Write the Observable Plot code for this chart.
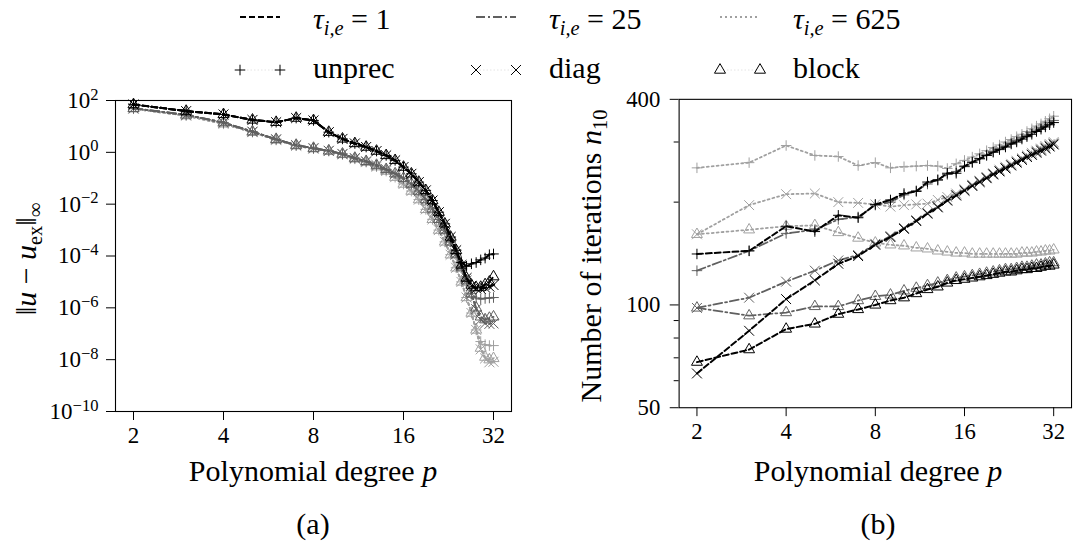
<!DOCTYPE html>
<html><head><meta charset="utf-8">
<script src="https://cdn.jsdelivr.net/npm/d3@7"></script>
<script src="https://cdn.jsdelivr.net/npm/@observablehq/plot@0.6"></script>
<style>
html,body{margin:0;padding:0;background:#fff;overflow:hidden;}
#fig{position:relative;width:1074px;height:543px;overflow:hidden;font-family:"Liberation Serif",serif;color:#000;}
.t{position:absolute;white-space:nowrap;line-height:1;font-size:30px;}
.t sub{font-size:0.68em;vertical-align:-0.28em;line-height:0;}
.pane{position:absolute;top:0;}
.leg{position:absolute;overflow:visible;}
</style></head>
<body><div id="fig"></div>
<script>
// ---------- data ----------
const P = [2,3,4,5,6,7,8,9,10,11,12,13,14,15,16,17,18,19,20,21,22,23,24,25,26,27,28,29,30,31,32];
const xTicks = [2,4,8,16,32];
const errTicks = [1e2,1e0,1e-2,1e-4,1e-6,1e-8,1e-10];
const errTickLabels = ["2","0","\u22122","\u22124","\u22126","\u22128","\u221210"];
const itMajor = [50,100,400];
const itMinor = [60,70,80,90,200,300];

// (a) max error
const errT1Unprec = [71,39,29,17.8,14.5,21,17,6.0,3.3,2.2,1.6,1.12,0.76,0.49,0.27,0.148,0.071,0.034,0.0138,4.9e-3,1.74e-3,5.4e-4,1.66e-4,5.6e-5,4.0e-5,5.0e-5,5.6e-5,7.1e-5,8.3e-5,1.12e-4,1.2e-4];
const errT1Diag   = [70,39,29,17.8,14.5,21,17,6.0,3.3,2.2,1.6,1.12,0.76,0.49,0.27,0.148,0.071,0.034,0.0138,4.9e-3,1.74e-3,5.4e-4,1.66e-4,4.5e-5,1.41e-5,7.1e-6,5.6e-6,5.4e-6,6.0e-6,6.6e-6,7.6e-6];
const errT1Block  = [70,39,29,17.8,14.5,21,17,6.0,3.3,2.2,1.6,1.12,0.76,0.49,0.27,0.148,0.071,0.034,0.0138,4.9e-3,1.74e-3,5.4e-4,1.66e-4,4.5e-5,1.41e-5,7.6e-6,6.0e-6,6.3e-6,7.9e-6,1.0e-5,1.6e-5];
const errT25Unprec = [50,28,14.1,6.3,3.2,1.9,1.45,1.15,0.87,0.60,0.45,0.32,0.22,0.15,0.10,0.060,0.032,0.015,6.6e-3,2.6e-3,1.0e-3,3.5e-4,1.2e-4,3.8e-5,1.12e-5,3.5e-6,2.4e-6,2.2e-6,2.3e-6,2.4e-6,2.5e-6];
const errT25Diag   = [50,28,14.1,6.3,3.2,1.9,1.45,1.15,0.87,0.60,0.45,0.32,0.22,0.15,0.10,0.060,0.032,0.015,6.6e-3,2.6e-3,1.0e-3,3.5e-4,1.2e-4,3.8e-5,1.12e-5,3.5e-6,8.9e-7,3.5e-7,2.5e-7,2.4e-7,2.5e-7];
const errT25Block  = [50,28,14.1,6.3,3.2,1.9,1.45,1.15,0.87,0.60,0.45,0.32,0.22,0.15,0.10,0.060,0.032,0.015,6.6e-3,2.6e-3,1.0e-3,3.5e-4,1.2e-4,3.8e-5,1.12e-5,3.5e-6,1.0e-6,4.5e-7,3.5e-7,4.0e-7,4.5e-7];
const errT625Unprec = [48,26,12.6,6.0,3.0,1.8,1.38,1.12,0.83,0.56,0.42,0.28,0.19,0.11,0.060,0.032,0.015,6.3e-3,2.6e-3,1.0e-3,3.5e-4,1.12e-4,3.5e-5,1.0e-5,2.5e-6,6.3e-7,1.4e-7,5.0e-8,3.8e-8,3.5e-8,3.5e-8];
const errT625Diag   = [48,26,12.6,6.0,3.0,1.8,1.38,1.12,0.83,0.56,0.42,0.28,0.19,0.11,0.060,0.032,0.015,6.3e-3,2.6e-3,1.0e-3,3.5e-4,1.12e-4,3.5e-5,1.0e-5,2.5e-6,6.3e-7,1.4e-7,2.5e-8,1.12e-8,7.9e-9,8.3e-9];
const errT625Block  = [48,26,12.6,6.0,3.0,1.8,1.38,1.12,0.83,0.56,0.42,0.28,0.19,0.11,0.060,0.032,0.015,6.3e-3,2.6e-3,1.0e-3,3.5e-4,1.12e-4,3.5e-5,1.0e-5,2.5e-6,6.3e-7,1.4e-7,2.8e-8,1.26e-8,1.0e-8,1.12e-8];

// (b) iterations n10
const itT1Unprec = [141,144,170,164,183,180,197,203,212,215,229,232,243,243,255,262,268,274,280,285,290,296,300,306,311,316,322,327,332,337,342];
const itT1Diag   = [63,84,104,118,132,139,150,158,167,176,185,193,202,209,216,223,229,235,241,246,251,256,261,266,271,275,279,283,287,291,295];
const itT1Block  = [68,74,85,88,94,97,100,103,105,108,111,113,116,118,119,120,121,122,123,124,125,125,126,127,127,128,128,129,130,130,131];
const itT25Unprec = [126,144,162,166,178,181,196,200,210,216,226,233,241,246,254,261,268,275,281,287,292,298,303,309,314,320,325,331,336,342,347];
const itT25Diag   = [98,105,117,126,135,140,151,159,168,177,186,194,203,210,217,224,230,236,242,247,252,257,262,267,272,276,281,285,289,293,297];
const itT25Block  = [98,93,95,99,99,103,106,107,110,112,114,116,118,120,121,122,123,124,125,126,127,127,128,129,129,130,131,131,132,133,133];
const itT625Unprec = [252,261,293,274,272,256,261,252,254,255,256,255,251,259,265,271,277,283,289,294,300,305,311,316,322,328,334,339,345,351,357];
const itT625Diag   = [161,196,211,212,200,199,197,194,196,197,198,203,207,212,218,225,231,237,243,249,254,259,264,269,274,279,283,287,292,296,300];
const itT625Block  = [161,166,170,171,163,157,152,150,149,147,146,144,143,142,142,141,141,141,141,141,141,141,141,142,142,142,143,143,144,144,145];

// ---------- styles ----------
const TAU = {
  "1":   {color:"#000000", dash:"6,3", width:2},
  "25":  {color:"#606060", dash:"9,3,2,3", width:1.8},
  "625": {color:"#a0a0a0", dash:"2,3", width:1.8}
};
const SYM = {unprec:{symbol:"plus", r:3.5}, diag:{symbol:"times", r:4.6}, block:{symbol:"triangle", r:4.1}};
const FONT = "'Liberation Serif', serif";

const errSeries = [
  ["625","unprec",errT625Unprec],["625","diag",errT625Diag],["625","block",errT625Block],
  ["25","unprec",errT25Unprec],["25","diag",errT25Diag],["25","block",errT25Block],
  ["1","unprec",errT1Unprec],["1","diag",errT1Diag],["1","block",errT1Block]
];
const itSeries = [
  ["625","unprec",itT625Unprec],["625","diag",itT625Diag],["625","block",itT625Block],
  ["25","unprec",itT25Unprec],["25","diag",itT25Diag],["25","block",itT25Block],
  ["1","unprec",itT1Unprec],["1","diag",itT1Diag],["1","block",itT1Block]
];

function seriesMarks(list){
  const marks = [];
  for (const [tau, pre, vals] of list) {
    const rows = P.map((p,i)=>({p, v: vals[i]}));
    const s = TAU[tau], m = SYM[pre];
    marks.push(Plot.line(rows, {x:"p", y:"v", stroke:s.color, strokeWidth:s.width, strokeDasharray:s.dash}));
    marks.push(Plot.dot(rows, {x:"p", y:"v", symbol:m.symbol, r:m.r, stroke:s.color, fill:"none", strokeWidth:1}));
  }
  return marks;
}

const xScale = {type:"log", base:2, domain:[Math.pow(2,0.8), Math.pow(2,5.2)]};
const baseStyle = {fontFamily:FONT, fontSize:"23px", background:"transparent", overflow:"visible"};

const left = Plot.plot({
  width:540, height:470,
  marginLeft:115, marginRight:29, marginTop:100, marginBottom:59,
  style: baseStyle,
  x: xScale,
  y: {type:"log", domain:[1e-10, 1e2]},
  marks: [
    ...seriesMarks(errSeries),
    Plot.frame({stroke:"#000", strokeWidth:1.1}),
    Plot.axisX({ticks:xTicks, tickFormat:d=>String(d), tickSize:9, tickPadding:6, label:null, fontSize:23}),
    Plot.axisY({ticks:errTicks, tickFormat:d=>"10^"+errTickLabels[errTicks.indexOf(d)], tickSize:9, tickPadding:8, label:null, fontSize:23})
  ]
});

const right = Plot.plot({
  width:520, height:470,
  marginLeft:120, marginRight:3, marginTop:100, marginBottom:58,
  style: baseStyle,
  x: xScale,
  y: {type:"log", domain:[50, 400]},
  marks: [
    ...seriesMarks(itSeries),
    Plot.frame({stroke:"#000", strokeWidth:1.1}),
    Plot.axisX({ticks:xTicks, tickFormat:d=>String(d), tickSize:9, tickPadding:6, label:null, fontSize:23}),
    Plot.axisY({ticks:itMajor, tickFormat:d=>String(d), tickSize:9, tickPadding:10, label:null, fontSize:23}),
    Plot.axisY({ticks:itMinor, tickFormat:()=>"", tickSize:5, label:null})
  ]
});

// superscript exponents on the left y tick labels
left.querySelectorAll("text").forEach(t=>{
  const s = t.textContent;
  if (s.startsWith("10^")) {
    t.textContent = "10";
    const ts = document.createElementNS("http://www.w3.org/2000/svg","tspan");
    ts.setAttribute("dy","-0.5em");
    ts.setAttribute("font-size","0.72em");
    ts.textContent = s.slice(3);
    t.appendChild(ts);
  }
});

const fig = document.getElementById("fig");
function pane(svg, x){ const d=document.createElement("div"); d.className="pane"; d.style.left=x+"px"; d.appendChild(svg); fig.appendChild(d); }
pane(left, 0);
pane(right, 560);

function text(html, x, y, opts={}){
  const d = document.createElement("div");
  d.className = "t";
  d.innerHTML = html;
  d.style.left = x+"px"; d.style.top = y+"px";
  let tr = opts.center ? "translate(-50%,-50%)" : "translate(0,-50%)";
  if (opts.rot) tr += " rotate(-90deg)";
  d.style.transform = tr;
  if (opts.size) d.style.fontSize = opts.size+"px";
  fig.appendChild(d);
}
// axis labels & captions
text("Polynomial degree <i>p</i>", 313, 471, {center:true});
text("Polynomial degree <i>p</i>", 878, 471, {center:true});
text("(a)", 313, 524, {center:true});
text("(b)", 878, 524, {center:true});
text("&#8214;<i>u</i> &#8722; <i>u</i><sub>ex</sub>&#8214;<sub>&#8734;</sub>", 26, 259, {center:true, rot:true});
text("Number of iterations <i>n</i><sub>10</sub>", 591, 256, {center:true, rot:true});

// legend
const NS = "http://www.w3.org/2000/svg";
function legSvg(x0, x1, y, draw){
  const svg = document.createElementNS(NS,"svg");
  svg.setAttribute("class","leg");
  svg.setAttribute("width", x1-x0+20); svg.setAttribute("height", 24);
  svg.style.left = (x0-10)+"px"; svg.style.top = (y-12)+"px";
  draw(svg, 10, x1-x0+10, 12);
  fig.appendChild(svg);
}
function line(svg, a, b, y, color, dash, w){
  const l = document.createElementNS(NS,"line");
  l.setAttribute("x1",a); l.setAttribute("x2",b); l.setAttribute("y1",y); l.setAttribute("y2",y);
  l.setAttribute("stroke",color); l.setAttribute("stroke-width",w); if(dash) l.setAttribute("stroke-dasharray",dash);
  svg.appendChild(l);
}
const symMap = {plus:d3.symbolPlus, times:d3.symbolTimes, triangle:d3.symbolTriangle};
function sym(svg, x, y, name, r){
  const p = document.createElementNS(NS,"path");
  p.setAttribute("d", d3.symbol(symMap[name], Math.PI*r*r)());
  p.setAttribute("transform",`translate(${x},${y})`);
  p.setAttribute("fill","none"); p.setAttribute("stroke","#000"); p.setAttribute("stroke-width",1);
  svg.appendChild(p);
}
const legTau = [["1",240,280,313],["25",476,516,549],["625",720,760,793]];
for (const [k,a,b,tx] of legTau){
  const s = TAU[k];
  legSvg(a,b,17,(svg,x0,x1,y)=>line(svg,x0,x1,y,s.color,s.dash,s.width));
  text(`<i>&#964;</i><sub><i>i,e</i></sub> = ${k}`, tx, 19);
}
const legPre = [["unprec",240,280,313],["diag",476,516,549],["block",720,760,793]];
for (const [k,a,b,tx] of legPre){
  const m = SYM[k];
  legSvg(a,b,70,(svg,x0,x1,y)=>{ line(svg,x0,x1,y,"#e4e4e4","1.5,2",1); sym(svg,x0,y,m.symbol,m.r); sym(svg,x1,y,m.symbol,m.r); });
  text(k, tx, 68);
}
</script></body></html>
